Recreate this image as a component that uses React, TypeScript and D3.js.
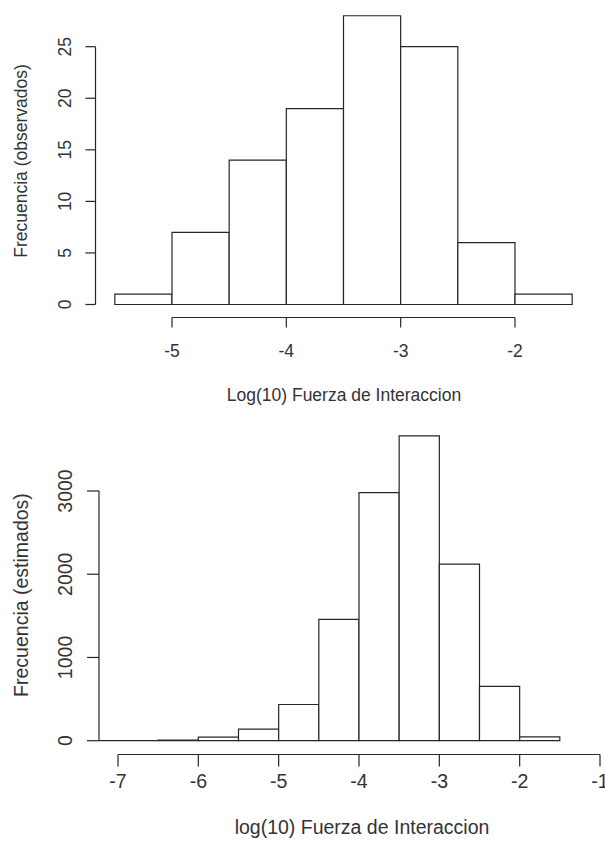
import * as d3 from 'd3';

// top histogram: observed counts
const obsBreaks = [-5.5, -5, -4.5, -4, -3.5, -3, -2.5, -2, -1.5];
const obsCounts = [1, 7, 14, 19, 28, 25, 6, 1];
const obsXTicks = [-5, -4, -3, -2];
const obsYTicks = [0, 5, 10, 15, 20, 25];

// bottom histogram: estimated counts
const estBreaks = [-7.5, -7, -6.5, -6, -5.5, -5, -4.5, -4, -3.5, -3, -2.5, -2, -1.5];
const estCounts = [0, 0, 8, 42, 138, 435, 1458, 2980, 3662, 2122, 652, 45];
const estXTicks = [-7, -6, -5, -4, -3, -2, -1];
const estYTicks = [0, 1000, 2000, 3000];

const stroke = '#262626';
const textColor = '#333';
const font = 'Liberation Sans, Arial, sans-serif';

interface HistProps {
  id: string;
  breaks: number[];
  counts: number[];
  xTicks: number[];
  yTicks: number[];
  xDomain: [number, number];
  xRange: [number, number];
  yDomain: [number, number];
  yRange: [number, number];
  yAxisX: number;
  xAxisY: number;
  tickLen: number;
  xLabelY: number;
  yLabelX: number;
  fontSize: number;
  xTitle: string;
  xTitleX: number;
  xTitleY: number;
  yTitle: string;
  yTitleX: number;
  yTitleY: number;
}

function Histogram(p: HistProps) {
  const x = d3.scaleLinear().domain(p.xDomain).range(p.xRange);
  const y = d3.scaleLinear().domain(p.yDomain).range(p.yRange);
  const bins = p.counts.map((c, i) => ({ x0: p.breaks[i], x1: p.breaks[i + 1], c }));

  // bars as closed paths so empty bins still show as a line on the baseline
  const barPath = (b: { x0: number; x1: number; c: number }) => {
    const path = d3.path();
    path.moveTo(x(b.x0), y(0));
    path.lineTo(x(b.x0), y(b.c));
    path.lineTo(x(b.x1), y(b.c));
    path.lineTo(x(b.x1), y(0));
    path.closePath();
    return path.toString();
  };

  return (
    <g>
      <defs>
        <clipPath id={p.id}>
          <rect x={p.yAxisX} y={0} width={605} height={845} />
        </clipPath>
      </defs>

      {/* Bars */}
      <g clipPath={`url(#${p.id})`}>
        {bins.map((b, i) => (
          <path key={i} d={barPath(b)} fill="#fff" stroke={stroke} strokeWidth={1.2} />
        ))}
      </g>

      {/* Y axis */}
      <line
        x1={p.yAxisX}
        x2={p.yAxisX}
        y1={y(p.yTicks[0])}
        y2={y(p.yTicks[p.yTicks.length - 1])}
        stroke={stroke}
        strokeWidth={1.2}
      />
      {p.yTicks.map((t, i) => (
        <g key={i}>
          <line x1={p.yAxisX - p.tickLen} x2={p.yAxisX} y1={y(t)} y2={y(t)} stroke={stroke} strokeWidth={1.2} />
          <text
            transform={`translate(${p.yLabelX},${y(t)}) rotate(-90)`}
            textAnchor="middle"
            dominantBaseline="central"
            fontSize={p.fontSize}
            fill={textColor}
          >
            {t}
          </text>
        </g>
      ))}

      {/* X axis */}
      <line
        x1={x(p.xTicks[0])}
        x2={x(p.xTicks[p.xTicks.length - 1])}
        y1={p.xAxisY}
        y2={p.xAxisY}
        stroke={stroke}
        strokeWidth={1.2}
      />
      {p.xTicks.map((t, i) => (
        <g key={i}>
          <line x1={x(t)} x2={x(t)} y1={p.xAxisY} y2={p.xAxisY + p.tickLen} stroke={stroke} strokeWidth={1.2} />
          <text
            x={x(t)}
            y={p.xLabelY}
            textAnchor="middle"
            dominantBaseline="central"
            fontSize={p.fontSize}
            fill={textColor}
          >
            {t}
          </text>
        </g>
      ))}

      {/* Titles */}
      <text
        x={p.xTitleX}
        y={p.xTitleY}
        textAnchor="middle"
        dominantBaseline="central"
        fontSize={p.fontSize}
        fill={textColor}
      >
        {p.xTitle}
      </text>
      <text
        transform={`translate(${p.yTitleX},${p.yTitleY}) rotate(-90)`}
        textAnchor="middle"
        dominantBaseline="central"
        fontSize={p.fontSize}
        fill={textColor}
      >
        {p.yTitle}
      </text>
    </g>
  );
}

export default function App() {
  return (
    <svg
      width={605}
      height={845}
      style={{ position: 'absolute', left: 0, top: 0, background: '#fff', fontFamily: font }}
    >
      <Histogram
        id="clip-obs"
        breaks={obsBreaks}
        counts={obsCounts}
        xTicks={obsXTicks}
        yTicks={obsYTicks}
        xDomain={[-5, -2]}
        xRange={[172, 515]}
        yDomain={[0, 25]}
        yRange={[304.5, 46.7]}
        yAxisX={95.5}
        xAxisY={317.5}
        tickLen={10}
        xLabelY={351}
        yLabelX={65}
        fontSize={17.5}
        xTitle="Log(10) Fuerza de Interaccion"
        xTitleX={344}
        xTitleY={395}
        yTitle="Frecuencia (observados)"
        yTitleX={21}
        yTitleY={161}
      />
      <Histogram
        id="clip-est"
        breaks={estBreaks}
        counts={estCounts}
        xTicks={estXTicks}
        yTicks={estYTicks}
        xDomain={[-7, -1]}
        xRange={[118, 600]}
        yDomain={[0, 3000]}
        yRange={[740.7, 491]}
        yAxisX={99}
        xAxisY={754.5}
        tickLen={12}
        xLabelY={781}
        yLabelX={65}
        fontSize={19.5}
        xTitle="log(10) Fuerza de Interaccion"
        xTitleX={362}
        xTitleY={827}
        yTitle="Frecuencia (estimados)"
        yTitleX={21}
        yTitleY={595}
      />
    </svg>
  );
}
